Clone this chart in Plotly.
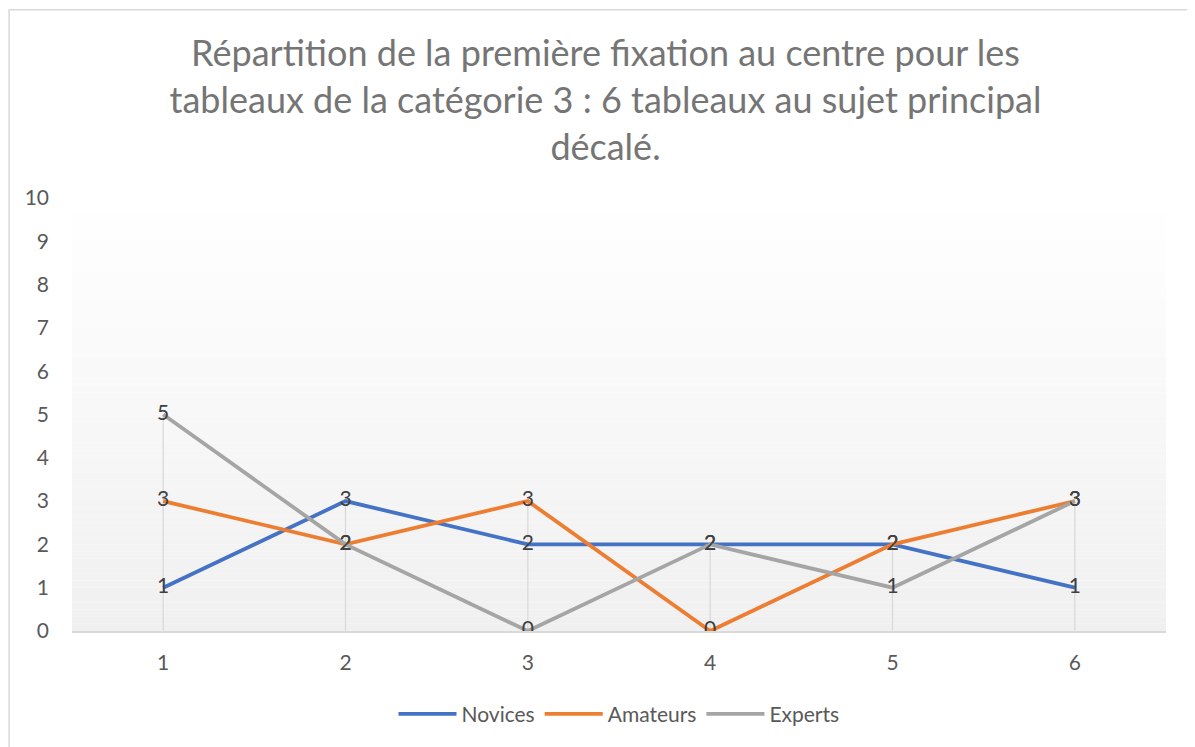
import plotly.graph_objects as go

categories = [1, 2, 3, 4, 5, 6]
novices = [1, 3, 2, 2, 2, 1]
amateurs = [3, 2, 3, 0, 2, 3]
experts = [5, 2, 0, 2, 1, 3]

series = [
    ("Novices", novices, "#4472C4"),
    ("Amateurs", amateurs, "#ED7D31"),
    ("Experts", experts, "#A5A5A5"),
]

title_text = ("Répartition de la première fixation au centre pour les<br>"
              "tableaux de la catégorie 3 : 6 tableaux au sujet principal<br>"
              "décalé.")

font_name = "Lato"

fig = go.Figure()

# drop lines from highest point of each category down to the axis
drop_x, drop_y = [], []
for i, c in enumerate(categories):
    top = max(novices[i], amateurs[i], experts[i])
    drop_x += [c, c, None]
    drop_y += [0, top, None]
fig.add_trace(go.Scatter(x=drop_x, y=drop_y, mode="lines",
                         line=dict(color="#d9d9d9", width=1.3),
                         showlegend=False, hoverinfo="skip"))

for name, vals, color in series:
    fig.add_trace(go.Scatter(
        x=categories, y=vals, name=name, mode="lines+text",
        text=[str(v) for v in vals], textposition="middle center",
        textfont=dict(color="#404040", size=21, family=font_name),
        line=dict(color=color, width=3.8),
    ))

# gradient background of the plot area
n_bands = 60
for k in range(n_bands):
    t = k / (n_bands - 1)
    g = round(255 - (255 - 240) * (1 - t))
    fig.add_shape(type="rect", xref="x domain", yref="y domain",
                  x0=0, x1=1, y0=k / n_bands, y1=(k + 1) / n_bands,
                  fillcolor=f"rgb({g},{g},{g})", line_width=0, layer="below")

# chart border (left and top edges visible)
fig.add_shape(type="rect", xref="paper", yref="paper",
              x0=-0.0575, x1=1.04, y0=-0.35, y1=1.4345,
              line=dict(color="#d9d9d9", width=1.5), fillcolor="rgba(0,0,0,0)")

fig.update_layout(
    width=1195, height=747,
    margin=dict(l=64, r=37, t=190, b=124),
    paper_bgcolor="white", plot_bgcolor="white",
    font=dict(family=font_name, color="#595959", size=21),
    title=dict(text=title_text, x=0.5, xanchor="center", y=0.922, yanchor="top",
               font=dict(size=36, color="#757575", family=font_name)),
    showlegend=True,
    legend=dict(orientation="h", x=0.5, xanchor="center", y=-0.145, yanchor="top",
                font=dict(size=21, color="#595959"), itemwidth=58,
                traceorder="normal"),
    xaxis=dict(type="category", range=[-0.5, 5.5], showgrid=False,
               showline=True, linecolor="#d9d9d9", linewidth=1.5,
               ticks="", ticklabelstandoff=12, zeroline=False,
               tickfont=dict(size=21, color="#595959")),
    yaxis=dict(range=[0, 10], dtick=1, showgrid=False, showline=False,
               zeroline=False, ticks="", ticklabelstandoff=22,
               tickfont=dict(size=21, color="#595959")),
)

fig.write_html("out.html")
